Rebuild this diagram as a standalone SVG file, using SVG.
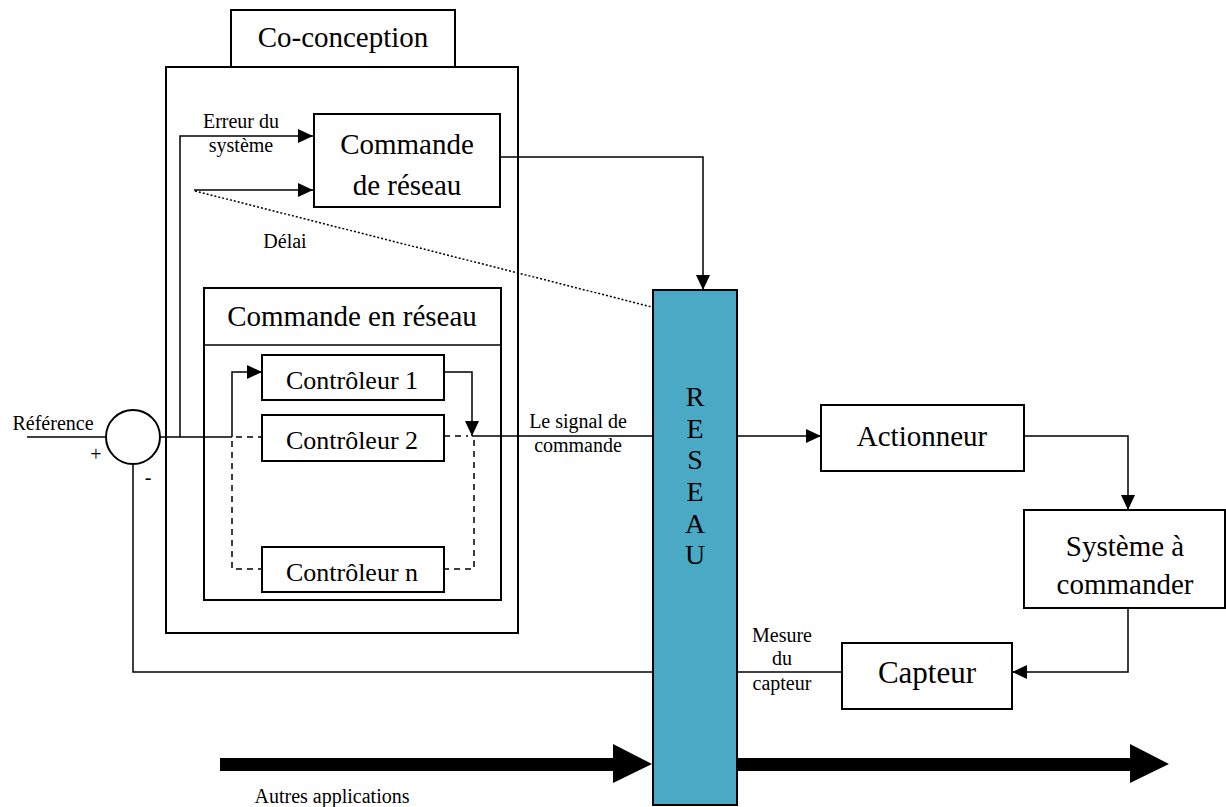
<svg xmlns="http://www.w3.org/2000/svg" width="1226" height="807" viewBox="0 0 1226 807">
<style>
.b{fill:#fff;stroke:#000;stroke-width:2}
.l{fill:none;stroke:#000;stroke-width:1.5}
.d{fill:none;stroke:#000;stroke-width:1.5;stroke-dasharray:6 5}
text{font-family:'Liberation Serif','DejaVu Serif','Times New Roman',serif;fill:#000;text-anchor:middle}
.s{font-size:20px}
</style>
<defs>
<marker id="a" viewBox="0 0 15 14" refX="15" refY="7" markerWidth="15" markerHeight="14" markerUnits="userSpaceOnUse" orient="auto"><path d="M0,0L15,7L0,14z" fill="#000"/></marker>
</defs>
<rect width="1226" height="807" fill="#fff"/>
<g id="coconception">
<rect class="b" x="166" y="67" width="352" height="566"/>
<rect class="b" x="231" y="10" width="224" height="57"/>
<text x="343" y="47" font-size="29">Co-conception</text>
</g>
<g id="commande-reseau">
<rect class="b" x="314" y="114" width="186" height="93"/>
<text x="407" y="154" font-size="29">Commande</text>
<text x="407" y="195" font-size="29">de réseau</text>
</g>
<g id="commande-en-reseau">
<rect class="b" x="204" y="288" width="297" height="312"/>
<line class="l" x1="204" y1="345" x2="501" y2="345"/>
<text x="352" y="326" font-size="29">Commande en réseau</text>
</g>
<g id="controleur1">
<rect class="b" x="262" y="355" width="182" height="45"/>
<text x="352" y="389" font-size="26">Contrôleur 1</text>
</g>
<g id="controleur2">
<rect class="b" x="262" y="415" width="182" height="46"/>
<text x="352" y="449" font-size="26">Contrôleur 2</text>
</g>
<g id="controleurn">
<rect class="b" x="262" y="547" width="182" height="45"/>
<text x="352" y="581" font-size="26">Contrôleur n</text>
</g>
<g id="comparateur">
<circle class="b" cx="133" cy="437" r="27"/>
</g>
<g id="reseau">
<rect x="653" y="290" width="84" height="515" fill="#4aaac5" stroke="#000" stroke-width="2"/>
<text x="695" y="406" font-size="28">R</text>
<text x="695" y="438" font-size="28">E</text>
<text x="695" y="469" font-size="28">S</text>
<text x="695" y="501" font-size="28">E</text>
<text x="695" y="533" font-size="28">A</text>
<text x="695" y="564" font-size="28">U</text>
</g>
<g id="actionneur">
<rect class="b" x="821" y="405" width="203" height="66"/>
<text x="922" y="446" font-size="29">Actionneur</text>
</g>
<g id="systeme">
<rect class="b" x="1024" y="510" width="201" height="98"/>
<text x="1125" y="556" font-size="29">Système à</text>
<text x="1125" y="594" font-size="29">commander</text>
</g>
<g id="capteur">
<rect class="b" x="842" y="643" width="170" height="66"/>
<text x="927" y="683" font-size="31">Capteur</text>
</g>
<g id="connectors">
<line class="l" x1="27" y1="437" x2="106" y2="437"/>
<line class="l" x1="160" y1="437" x2="232" y2="437"/>
<polyline class="l" points="180,437 180,136 313,136" stroke-width="2.5" marker-end="url(#a)"/>
<line class="l" x1="194" y1="190" x2="313" y2="190" stroke-width="2.5" marker-end="url(#a)"/>
<line class="l" x1="195" y1="191" x2="652" y2="307" stroke-dasharray="2 2"/>
<polyline class="l" points="232,437 232,372 262,372" stroke-width="2" marker-end="url(#a)"/>
<line class="d" x1="236" y1="437" x2="262" y2="437"/>
<polyline class="d" points="232,441 232,569 262,569"/>
<polyline class="l" points="444,372 472,372 472,436" stroke-width="2" marker-end="url(#a)"/>
<line class="d" x1="444" y1="436" x2="468" y2="436"/>
<polyline class="d" points="474,440 474,569 444,569"/>
<line class="l" x1="472" y1="436" x2="653" y2="436"/>
<polyline class="l" points="500,157 703,157 703,290" stroke-width="2" marker-end="url(#a)"/>
<line class="l" x1="737" y1="436" x2="821" y2="436" stroke-width="2" marker-end="url(#a)"/>
<polyline class="l" points="1024,436 1128,436 1128,510" stroke-width="2" marker-end="url(#a)"/>
<polyline class="l" points="1128,608 1128,672 1012,672" stroke-width="2" marker-end="url(#a)"/>
<line class="l" x1="842" y1="672" x2="737" y2="672"/>
<polyline class="l" points="653,672 133,672 133,464"/>
<polygon points="220,758 613,758 613,744 652,764 613,783 613,771 220,771" fill="#000"/>
<polygon points="738,758 1130,758 1130,744 1169,764 1130,783 1130,771 738,771" fill="#000"/>
</g>
<g id="labels">
<text class="s" x="241" y="128">Erreur du</text>
<text class="s" x="241" y="152">système</text>
<text class="s" x="285" y="248">Délai</text>
<text class="s" x="53" y="430">Référence</text>
<text class="s" x="96" y="461">+</text>
<text class="s" x="148" y="484">-</text>
<text class="s" x="578" y="428">Le signal de</text>
<text class="s" x="578" y="452">commande</text>
<text class="s" x="782" y="642">Mesure</text>
<text class="s" x="782" y="665">du</text>
<text class="s" x="782" y="690">capteur</text>
<text class="s" x="332" y="803">Autres applications</text>
</g>
</svg>
